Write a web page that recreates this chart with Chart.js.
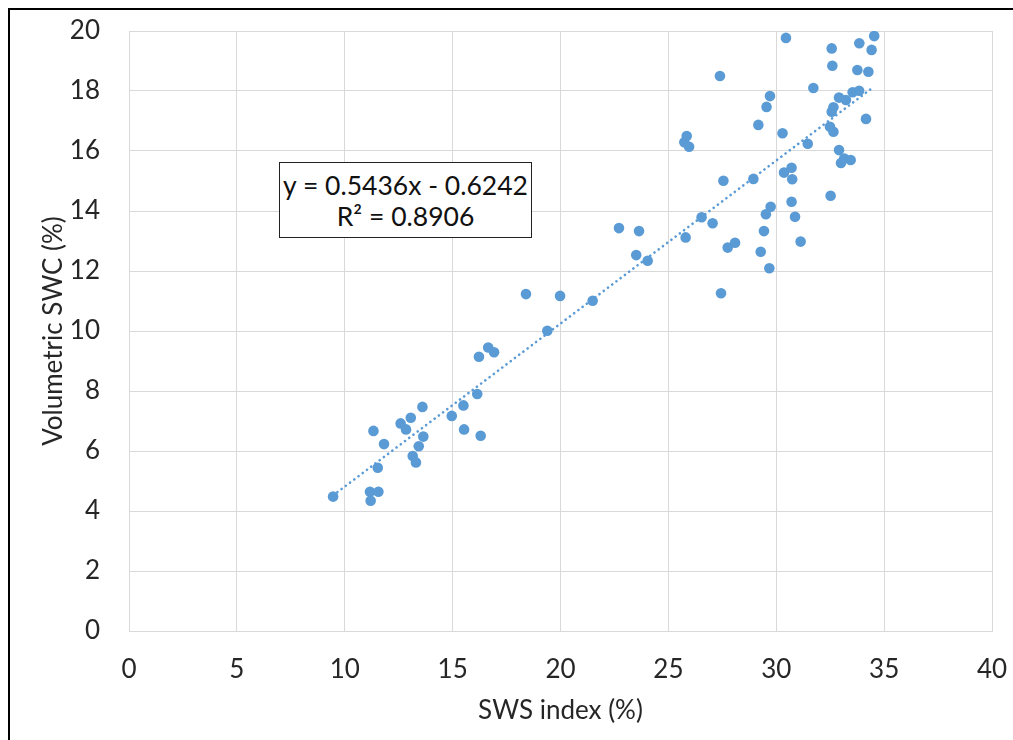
<!DOCTYPE html>
<html>
<head>
<meta charset="utf-8">
<script src="https://cdn.jsdelivr.net/npm/chart.js@4.4.1/dist/chart.umd.min.js"></script>
<style>
  html, body { margin: 0; padding: 0; background: #fff; overflow: hidden; }
  #wrap { position: relative; width: 1013px; height: 740px; }
  #frame { position: absolute; left: 8px; top: 8px; width: 1100px; height: 800px; border: 2px solid #000; pointer-events: none; }
  #eq { position: absolute; left: 279px; top: 162px; width: 251px; border: 1px solid #222; background: #fff;
        font-family: Lato, "Open Sans", sans-serif; font-size: 26.5px; line-height: 31px; color: #111; text-align: center;
        box-sizing: content-box; padding-top: 7px; height: 67px; white-space: nowrap; }
</style>
</head>
<body>
<div id="wrap">
  <canvas id="myChart" width="1013" height="740"></canvas>
  <div id="frame"></div>
  <div id="eq">y = 0.5436x - 0.6242<br>R² = 0.8906</div>
</div>
<script>
// SWS index (%) vs volumetric SWC (%)
var swsX = [9.46, 11.17, 11.56, 11.2, 11.33, 11.82, 11.53, 12.59, 12.84, 13.06,
  13.6, 13.64, 13.43, 13.15, 13.3, 14.96, 15.5, 15.53, 16.3, 16.14,
  16.22, 16.65, 16.92, 18.4, 19.98, 19.39, 21.49, 22.71, 23.51, 23.64,
  24.04, 25.8, 26.54, 27.05, 27.55, 27.44, 27.75, 28.09, 25.85, 25.74,
  25.96, 27.39, 29.17, 29.55, 29.71, 28.94, 30.29, 29.74, 29.52, 29.43,
  29.28, 29.68, 30.36, 30.71, 30.74, 30.71, 30.87, 31.13, 31.46, 32.52,
  30.45, 31.72, 32.57, 32.6, 33.85, 34.54, 34.42, 33.76, 34.27, 33.54,
  33.84, 32.91, 33.23, 32.65, 32.57, 34.16, 32.49, 32.65, 32.91, 33.0,
  33.15, 33.45];
var swcY = [4.48, 4.64, 4.64, 4.34, 6.67, 6.23, 5.44, 6.92, 6.72, 7.11,
  7.47, 6.48, 6.16, 5.83, 5.62, 7.17, 7.52, 6.72, 6.51, 7.9,
  9.14, 9.45, 9.29, 11.23, 11.17, 10.01, 11.01, 13.43, 12.53, 13.33,
  12.34, 13.12, 13.79, 13.59, 15.01, 11.26, 12.78, 12.94, 16.5, 16.29,
  16.14, 18.5, 16.87, 17.47, 17.83, 15.07, 16.59, 14.14, 13.89, 13.33,
  12.64, 12.09, 15.28, 15.44, 15.06, 14.31, 13.81, 12.98, 16.24, 14.51,
  19.77, 18.1, 19.42, 18.84, 19.59, 19.83, 19.37, 18.7, 18.64, 17.96,
  18.01, 17.78, 17.7, 17.46, 17.31, 17.07, 16.81, 16.64, 16.03, 15.6,
  15.75, 15.7];

// linear trend line end points
var trendX = [9.46, 34.54];
var trendY = [4.52, 18.15];

var xTicks = [0, 5, 10, 15, 20, 25, 30, 35, 40];
var yTicks = [0, 2, 4, 6, 8, 10, 12, 14, 16, 18, 20];

var blue = '#5b9bd5';
var gridCol = '#d9d9d9';
var tickFont = { family: 'Lato, "Open Sans", sans-serif', size: 26 };

var points = swsX.map(function(x, i){ return { x: x, y: swcY[i] }; });
var trend = trendX.map(function(x, i){ return { x: x, y: trendY[i] }; });

var ctx = document.getElementById('myChart');
var myChart = new Chart(ctx, {
  type: 'scatter',
  data: {
    datasets: [{
      label: 'SWC',
      data: points,
      backgroundColor: blue,
      borderWidth: 0,
      pointRadius: 5.3,
      order: 1
    }, {
      label: 'trend',
      type: 'line',
      data: trend,
      borderColor: blue,
      borderWidth: 2.6,
      borderDash: [0.1, 5.2],
      borderCapStyle: 'round',
      pointRadius: 0,
      fill: false,
      order: 2
    }]
  },
  options: {
    responsive: false,
    animation: false,
    layout: { padding: { top: 31, right: 21, left: 0, bottom: 0 } },
    plugins: { legend: { display: false }, tooltip: { enabled: false } },
    scales: {
      x: {
        type: 'linear',
        min: 0, max: 40,
        afterBuildTicks: function(scale){ scale.ticks = xTicks.map(function(v){ return { value: v }; }); },
        afterFit: function(scale){
          scale.height = 109;
          scale.paddingLeft = 0;
          scale.paddingRight = 0;
        },
        grid: { color: gridCol, drawTicks: false, lineWidth: 1 },
        border: { color: gridCol },
        ticks: { font: tickFont, color: '#262626', padding: 23, maxRotation: 0 },
        title: { display: true, text: 'SWS index (%)', font: tickFont, color: '#262626', padding: { top: 14, bottom: 14 } }
      },
      y: {
        type: 'linear',
        min: 0, max: 20,
        afterBuildTicks: function(scale){ scale.ticks = yTicks.map(function(v){ return { value: v }; }); },
        afterFit: function(scale){
          scale.width = 129;
          scale.paddingTop = 0;
          scale.paddingBottom = 0;
        },
        grid: { color: gridCol, drawTicks: false, lineWidth: 1 },
        border: { color: gridCol },
        ticks: { font: tickFont, color: '#262626', padding: 29 },
        title: { display: true, text: 'Volumetric SWC (%)', font: tickFont, color: '#262626', padding: { top: 38, bottom: 38 } }
      }
    }
  }
});
</script>
</body>
</html>
